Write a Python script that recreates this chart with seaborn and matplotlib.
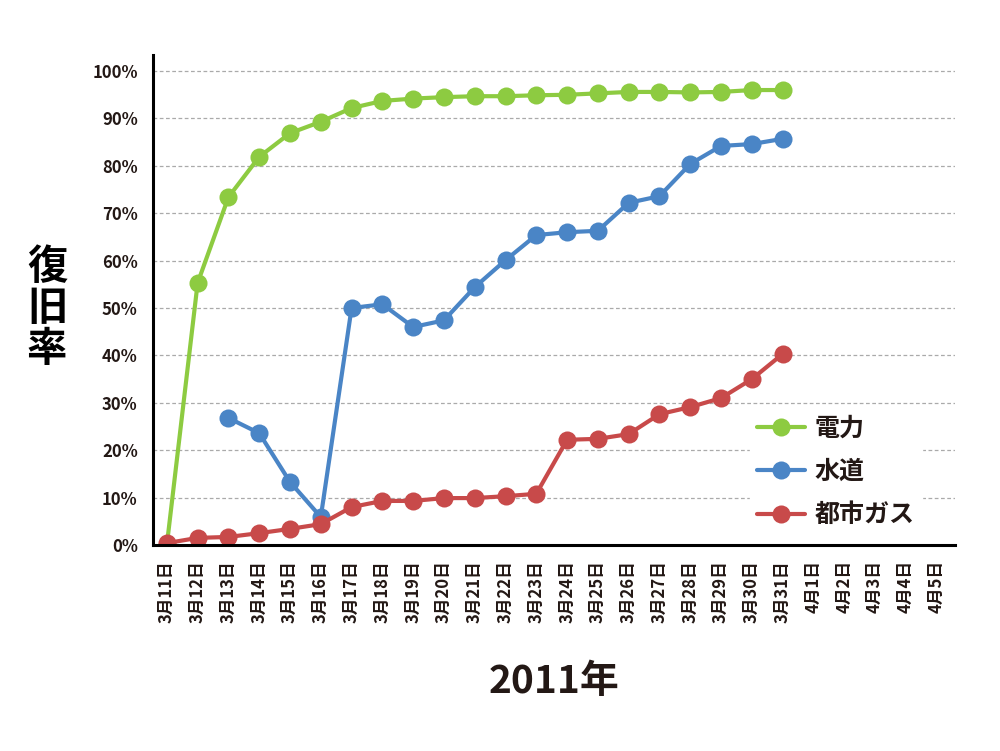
import numpy as np
import pandas as pd
import seaborn as sns
import matplotlib.pyplot as plt

dates = ['3月11日', '3月12日', '3月13日', '3月14日', '3月15日', '3月16日', '3月17日',
         '3月18日', '3月19日', '3月20日', '3月21日', '3月22日', '3月23日', '3月24日',
         '3月25日', '3月26日', '3月27日', '3月28日', '3月29日', '3月30日', '3月31日',
         '4月1日', '4月2日', '4月3日', '4月4日', '4月5日']
series_names = ['電力', '水道', '都市ガス']
power = [0, 55.3, 73.4, 81.9, 86.9, 89.3, 92.2, 93.7, 94.2, 94.5, 94.7, 94.7, 94.9,
         95.0, 95.3, 95.6, 95.6, 95.5, 95.6, 96.0, 96.0]
water = [np.nan, np.nan, 26.8, 23.6, 13.3, 5.9, 50.0, 50.8, 46.0, 47.4, 54.4, 60.1, 65.4,
         66.0, 66.3, 72.2, 73.6, 80.4, 84.2, 84.6, 85.7]
gas = [0.4, 1.5, 1.7, 2.5, 3.4, 4.4, 8.0, 9.3, 9.3, 9.9, 9.9, 10.3, 10.8,
       22.2, 22.4, 23.4, 27.6, 29.1, 31.0, 35.0, 40.3]
colors = ['#8dcb41', '#4a85c6', '#c84a4a']
text_color = '#231815'

sns.set_style('white')
plt.rcParams['font.family'] = ['Noto Sans CJK JP', 'DejaVu Sans']

rows = []
for name, vals in zip(series_names, [power, water, gas]):
    for i, v in enumerate(vals):
        rows.append({'day': i, 'rate': v, 'kind': name})
df = pd.DataFrame(rows).dropna()

fig = plt.figure(figsize=(10, 7.51), dpi=100)
ax = fig.add_axes([0.153, 0.2743, 0.802, 0.6525])

ax.yaxis.grid(True, linestyle=(0, (3, 2)), color='#aaaaaa', linewidth=0.9)
ax.set_axisbelow(True)

sns.lineplot(data=df, x='day', y='rate', hue='kind', hue_order=series_names,
             palette=colors, marker='o', markersize=13, linewidth=3,
             markeredgewidth=0, ax=ax, sort=False)

ax.set_xlim(-0.45, 25.6)
ax.set_ylim(0, 103.4)
ax.set_xticks(range(len(dates)))
ax.set_xticklabels(dates, rotation=90, fontsize=12, fontweight='bold', color=text_color)
ax.set_yticks(range(0, 101, 10))
ax.set_yticklabels([f'{v}%' for v in range(0, 101, 10)], fontsize=12,
                   fontweight='bold', color=text_color)
ax.tick_params(axis='both', direction='out', length=7, width=2, color='black', pad=4)

for s in ['top', 'right']:
    ax.spines[s].set_visible(False)
for s in ['left', 'bottom']:
    ax.spines[s].set_linewidth(2.2)
    ax.spines[s].set_color('black')

ax.set_xlabel('')
ax.set_ylabel('')

leg = ax.legend(loc='lower right', bbox_to_anchor=(0.975, -0.005), frameon=True,
                fontsize=18, handlelength=1.9, handletextpad=0.4,
                labelspacing=0.78, borderpad=0.3)
leg.get_frame().set_facecolor('white')
leg.get_frame().set_edgecolor('white')
leg.get_frame().set_alpha(1)
for t in leg.get_texts():
    t.set_fontweight('bold')
    t.set_color(text_color)

fig.text(0.047, 0.589, '復\n旧\n率', fontsize=29, fontweight='bold', ha='center',
         va='center', linespacing=1.0, color='black')
fig.text(0.554, 0.093, '2011年', fontsize=28, fontweight='bold', ha='center',
         va='center', color=text_color)

fig.savefig('out.png', dpi=100)
